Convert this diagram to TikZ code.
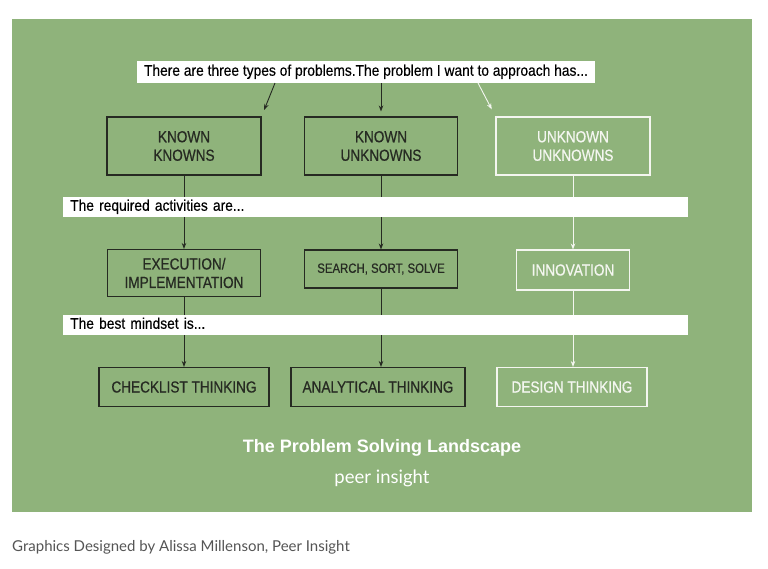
\documentclass[tikz,border=0pt]{standalone}
\usepackage{fontspec}
\setmainfont{Liberation Sans}
\newfontfamily\boxfont[FakeStretch=0.85, FakeBold=0.6]{Liberation Sans}
\newfontfamily\bandfont[FakeStretch=0.89, FakeBold=0.3]{Liberation Sans}
\newfontfamily\peerfont{Lato}
\usetikzlibrary{arrows.meta, calc}

\definecolor{bggreen}{HTML}{8FB37B}
\definecolor{darkline}{HTML}{262A22}
\definecolor{paleline}{HTML}{F4F6F0}
\definecolor{captiongray}{HTML}{555555}

\begin{document}
\begin{tikzpicture}[x=1pt, y=-1pt,
    arr/.style={-{Stealth[length=6pt,width=4.5pt]}, line width=0.9pt},
    darkbox/.style={draw=darkline, line width=1.1pt, text=darkline, align=center,
        font=\boxfont\fontsize{16}{18.5}\selectfont, inner sep=0pt},
    palebox/.style={darkbox, draw=paleline, text=paleline},
    band/.style={fill=white, text=black, anchor=west, inner xsep=7pt, inner ysep=0pt,
        text width=611pt, align=left, minimum height=20pt,
        font=\bandfont\fontsize{15.5}{16}\selectfont, text height=10.5pt, text depth=3pt}]
    \useasboundingbox (0,0) rectangle (768,568);
    \fill[white] (0,0) rectangle (768,568);
    \fill[bggreen] (12,19) rectangle (752,512);

    \node[fill=white, inner xsep=7pt, inner ysep=0pt, minimum height=22pt,
        text height=10.5pt, text depth=3pt,
        font=\bandfont\fontsize{15.5}{16}\selectfont] (q) at (366,72)
        {There are three types of problems.The problem I want to approach has...};

    % problem types
    \node[darkbox, minimum width=154pt, minimum height=58pt] (kk) at (184,146) {KNOWN\\KNOWNS};
    \node[darkbox, minimum width=153pt, minimum height=58pt] (ku) at (381,146) {KNOWN\\UNKNOWNS};
    \node[palebox, minimum width=154pt, minimum height=58pt] (uu) at (573,146) {UNKNOWN\\UNKNOWNS};

    % activities
    \node[darkbox, minimum width=153pt, minimum height=47pt] (ex) at (184,273) {EXECUTION/\\IMPLEMENTATION};
    \node[darkbox, minimum width=153pt, minimum height=38pt,
        font=\boxfont\fontsize{13.4}{15}\selectfont] (ss) at (381,269) {SEARCH, SORT, SOLVE};
    \node[palebox, minimum width=113pt, minimum height=40pt] (in) at (573,270) {INNOVATION};

    % mindsets
    \node[darkbox, minimum width=170pt, minimum height=39pt] (ct) at (184,387) {CHECKLIST THINKING};
    \node[darkbox, minimum width=174pt, minimum height=39pt] (at) at (378,387) {ANALYTICAL THINKING};
    \node[palebox, minimum width=150pt, minimum height=39pt] (dt) at (572,387) {DESIGN THINKING};

    \coordinate (t1) at (275,83);
    \coordinate (t3) at (478,83);
    \draw[arr, darkline, shorten >=7pt] (t1) -- (kk.north east);
    \draw[arr, darkline, shorten >=5pt] (q.south -| ku) -- (ku.north);
    \draw[arr, paleline, shorten >=8pt] (t3) -- (uu.north west);

    \draw[arr, darkline] (kk.south) -- (ex.north);
    \draw[arr, darkline] (ku.south) -- (ss.north);
    \draw[arr, paleline] (uu.south) -- (in.north);
    \draw[arr, darkline] (ex.south) -- (ct.north);
    \draw[arr, darkline] (ss.south) -- (ss.south |- at.north);
    \draw[arr, paleline] (in.south) -- (in.south |- dt.north);

    % bands laid over the connectors
    \node[band] (b1) at (63,207) {The required activities are...};
    \node[band] (b2) at (63,325) {The best mindset is...};

    \node[text=white, font=\bfseries\fontsize{18}{20}\selectfont] (title) at (382,448)
        {The Problem Solving Landscape};
    \node[text=white, font=\peerfont\fontsize{18.5}{20}\selectfont] (peer) at (382,478) {peer insight};
    \node[text=captiongray, anchor=west, inner sep=0pt, font=\peerfont\fontsize{15}{17}\selectfont]
        (cap) at (12,547) {Graphics Designed by Alissa Millenson, Peer Insight};
\end{tikzpicture}
\end{document}
